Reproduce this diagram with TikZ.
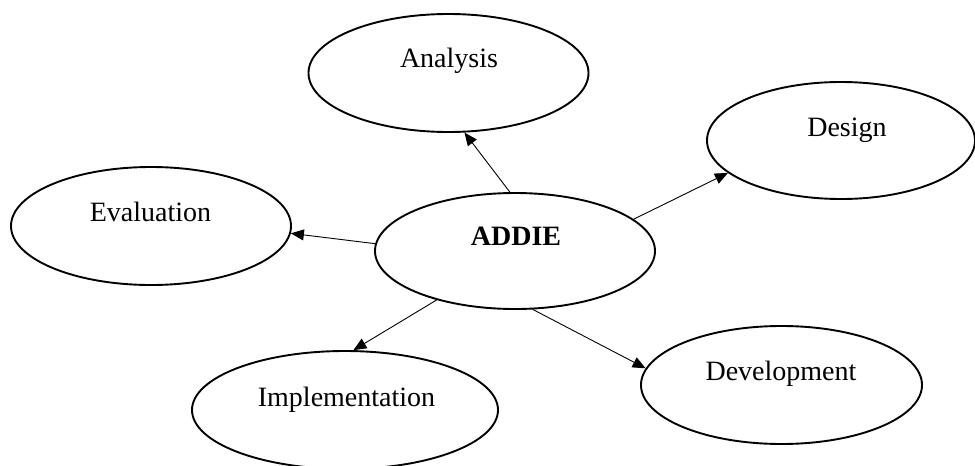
\documentclass[tikz,border=0pt]{standalone}
\usepackage{fontspec}
\setmainfont{Liberation Serif}
\usetikzlibrary{shapes.geometric,arrows.meta}
\begin{document}
\begin{tikzpicture}[x=1pt,y=-1pt,
  oval/.style={ellipse,draw=black,line width=1.9pt,inner sep=0pt},
  lbl/.style={anchor=base,inner sep=0pt,font=\fontsize{28}{32}\selectfont},
  conn/.style={line width=0.9pt,-{Triangle[length=13pt,width=11pt]}}]
\useasboundingbox (0,0) rectangle (975,466);
\fill[white] (0,0) rectangle (975,466);
% ellipses
\node[oval,minimum width=280pt,minimum height=118pt] (ana) at (448.5,73) {};
\node[oval,minimum width=268pt,minimum height=117pt] (des) at (841,140.5) {};
\node[oval,minimum width=280pt,minimum height=118pt] (eva) at (151,226) {};
\node[oval,minimum width=280pt,minimum height=116pt] (add) at (515,251) {};
\node[oval,minimum width=306pt,minimum height=118pt] (imp) at (345,410) {};
\node[oval,minimum width=281pt,minimum height=118pt] (dev) at (781.5,385) {};
% texts
\node[lbl] (anaT) at (449,67) {Analysis};
\node[lbl] (desT) at (847,136) {Design};
\node[lbl] (evaT) at (150.5,221) {Evaluation};
\node[lbl,font=\fontsize{28}{32}\selectfont\bfseries] (addT) at (516,245) {ADDIE};
\node[lbl] (impT) at (346.5,406) {Implementation};
\node[lbl] (devT) at (781,380) {Development};
% connectors
\draw[conn] (add.95) -- (ana.285);
\draw[conn] (add.15.6) -- (des.196.5);
\draw[conn] (add.177) -- (eva.357);
\draw[conn] (add.212.7) -- (imp.82);
\draw[conn] (add.287) -- (dev.173);
\end{tikzpicture}
\end{document}
